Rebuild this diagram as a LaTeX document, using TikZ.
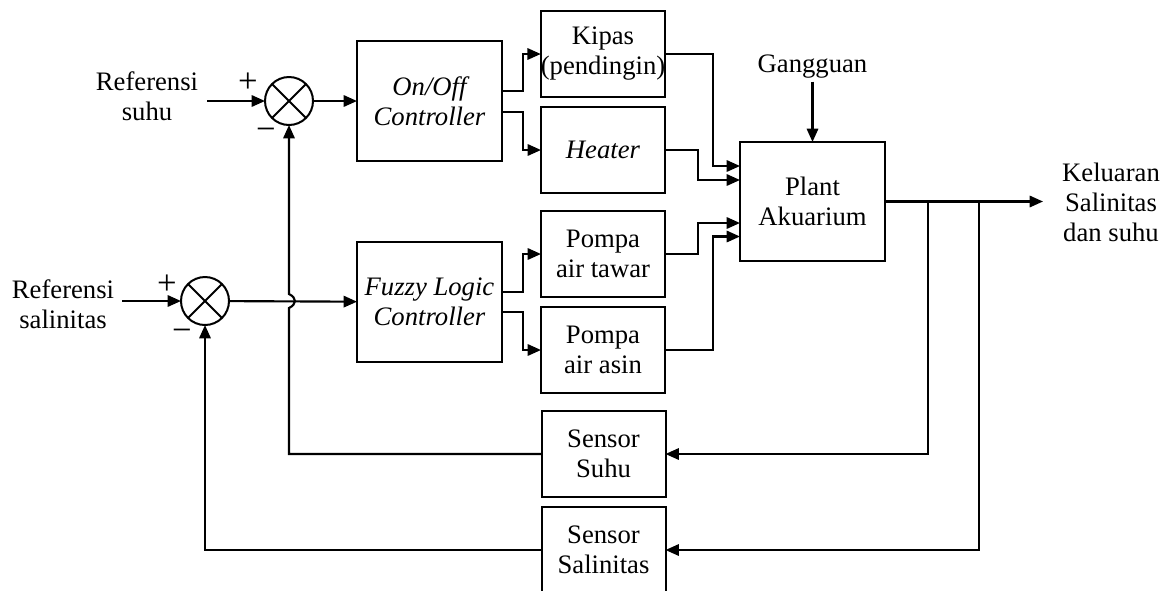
\documentclass[tikz,border=0pt]{standalone}
\usepackage{fontspec}
\setmainfont{Liberation Serif}
\usetikzlibrary{arrows.meta,calc}
\newcommand\dfont{\fontsize{20pt}{22.5pt}\selectfont}
\tikzset{
  blk/.style={draw, line width=1.5pt, inner sep=0pt, outer sep=0pt, align=center, font=\dfont},
  ctrl/.style={blk, minimum width=108.75pt, minimum height=90pt, font=\dfont\itshape},
  act/.style={blk, minimum width=93pt, minimum height=64.5pt},
  sumj/.style={draw, circle, line width=1.5pt, minimum size=36pt, inner sep=0pt, outer sep=0pt,
    path picture={\draw[line width=1.5pt] (path picture bounding box.north west) -- (path picture bounding box.south east)
      (path picture bounding box.north east) -- (path picture bounding box.south west);}},
  lbl/.style={align=center, inner sep=0pt, font=\dfont},
  sgn/.style={inner sep=0pt, font=\fontsize{26pt}{28pt}\selectfont},
  arr/.style={line width=1.6pt, -{Triangle[length=10pt,width=8.5pt]}},
}
\begin{document}
\begin{tikzpicture}[x=0.75pt,y=-0.75pt]
\useasboundingbox (0,0) rectangle (1166,590);
\clip (0,0) rectangle (1166,590);
\fill[white] (0,0) rectangle (1166,590);
% summing junctions
\node[sumj] (s1) at (289,101) {};
\node[sumj] (s2) at (205,301) {};
% labels
\node[lbl] (ref1) at (147,96) {Referensi\\suhu};
\node[lbl] (ref2) at (63,304) {Referensi\\salinitas};
\node[sgn] (p1) at ($(s1)+(-41,-18)$) {+};
\node[sgn] (m1) at ($(s1)+(-23,33)$) {−};
\node[sgn] (p2) at ($(s2)+(-38,-16)$) {+};
\node[sgn] (m2) at ($(s2)+(-23,34)$) {−};
% blocks
\node[ctrl] (onoff) at (429.5,101) {On/Off\\Controller};
\node[ctrl] (fuzzy) at (429.5,302) {Fuzzy Logic\\Controller};
\node[act] (kipas) at (603,54) {Kipas\\(pendingin)};
\node[act, font=\dfont\itshape] (heater) at (603,150) {Heater};
\node[act] (tawar) at (603,254) {Pompa\\air tawar};
\node[act] (asin) at (603,350) {Pompa\\air asin};
\node[blk, minimum width=108.75pt, minimum height=89.25pt] (plant) at (812.5,201.5) {Plant\\Akuarium};
\node[act] (ssuhu) at (603.5,454) {Sensor\\Suhu};
\node[act] (ssal) at (603.5,550) {Sensor\\Salinitas};
\node[lbl, inner sep=2pt] (gang) at (812.5,67) {Gangguan};
\node[lbl] (kel) at (1111,202.5) {Keluaran\\Salinitas\\dan suhu};
% coordinates
\coordinate (in1) at (207,101);
\coordinate (in2) at (122,301);
\coordinate (outp) at (1043,201.5);
\coordinate (b1) at (928,201.5);
\coordinate (b2) at (979,201.5);
% connectors
\draw[arr] (in1) -- (s1);
\draw[arr] (in2) -- (s2);
\draw[arr] (s1) -- (onoff);
\draw[arr] (s2) -- (fuzzy);
\draw[arr] ($(onoff.east)+(0,-10)$) -- ++(21,0) |- (kipas.west);
\draw[arr] ($(onoff.east)+(0,11)$) -- ++(21,0) |- (heater.west);
\draw[arr] ($(fuzzy.east)+(0,-10)$) -- ++(21,0) |- (tawar.west);
\draw[arr] ($(fuzzy.east)+(0,10)$) -- ++(21,0) |- (asin.west);
\draw[arr] (kipas.east) -- ++(48,0) |- ($(plant.west)+(0,-35.5)$);
\draw[arr] (heater.east) -- ++(33,0) |- ($(plant.west)+(0,-21.5)$);
\draw[arr] (tawar.east) -- ++(33,0) |- ($(plant.west)+(0,21.5)$);
\draw[arr] (asin.east) -- ++(48,0) |- ($(plant.west)+(0,35)$);
\draw[arr] (gang.south) -- (plant.north);
\draw[arr] (plant.east) -- (outp);
\draw[arr] (b1) |- (ssuhu.east);
\draw[arr] (b2) |- (ssal.east);
\draw[arr] (ssuhu.west) -- (s1 |- ssuhu.west) -- ($(s1 |- s2)+(0,7)$)
   .. controls +(8,-4) and +(8,4) .. ($(s1 |- s2)+(0,-7)$) -- (s1.south);
\draw[arr] (ssal.west) -| (s2.south);
\end{tikzpicture}
\end{document}
